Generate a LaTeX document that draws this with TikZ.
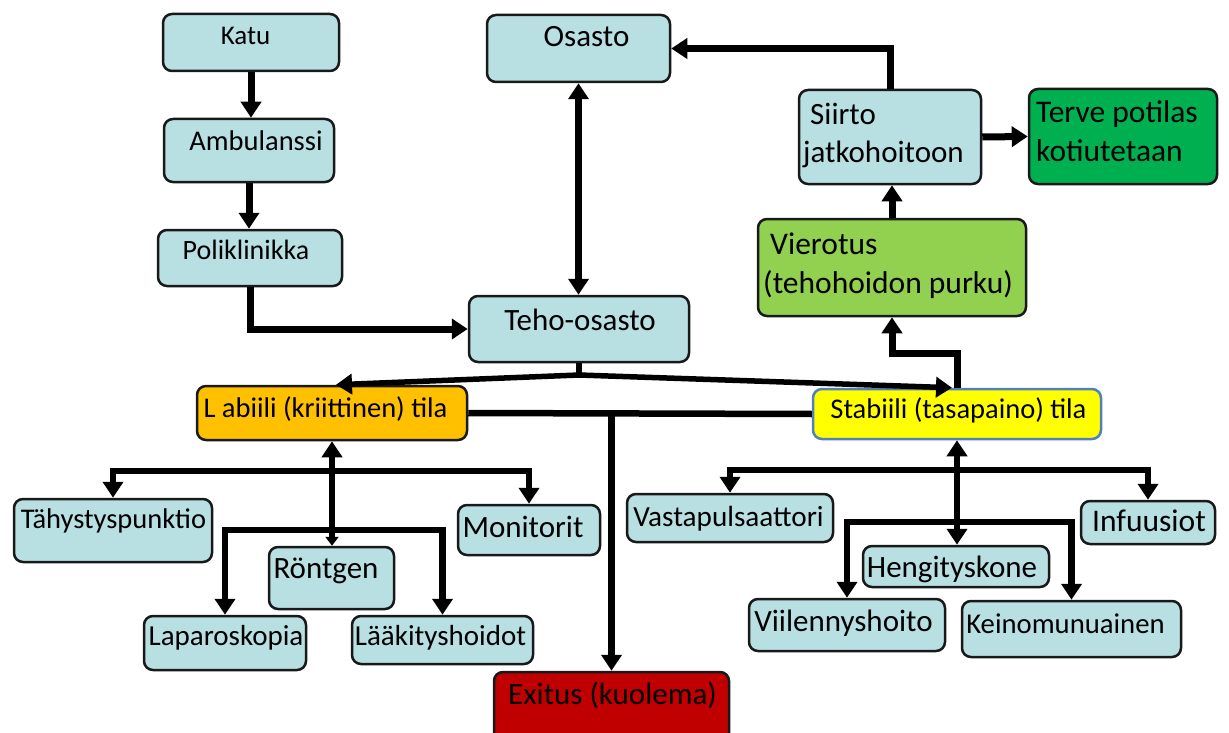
\documentclass[tikz,border=0pt]{standalone}
\usepackage{fontspec}
\setmainfont{Carlito}
\usetikzlibrary{arrows.meta}
\definecolor{boxblue}{HTML}{B8DFE2}
\definecolor{critorange}{HTML}{FFC000}
\definecolor{stabyellow}{HTML}{FFFF00}
\definecolor{stabborder}{HTML}{4F81BD}
\definecolor{weangreen}{HTML}{92D050}
\definecolor{homegreen}{HTML}{00B050}
\definecolor{deathred}{HTML}{C00000}
\begin{document}
\begin{tikzpicture}[x=1pt,y=-1pt,
  >={Triangle[length=16pt,width=20pt]},
  box/.style={draw=black!90, line width=2.5pt, rounded corners=9pt, inner sep=0pt, anchor=center, fill=boxblue},
  t/.style={font=\fontsize{#1}{#1}\selectfont, inner sep=0pt, anchor=base, text=black},
  tl/.style={t=#1, anchor=base west},
  conn/.style={line width=7pt, draw=black},
  tree/.style={line width=6.5pt, draw=black},
  thin/.style={line width=5.5pt, draw=black},
  smalltip/.style={-{Triangle[length=9pt,width=13pt]}}
]
\fill[white] (0,0) rectangle (1229,733);
\useasboundingbox (0,0) rectangle (1229,733);

% boxes
\node[box, minimum width=176pt, minimum height=57pt] (katu) at (251,42.5) {};
\node[box, minimum width=170pt, minimum height=63pt] (amb) at (249,150.5) {};
\node[box, minimum width=184pt, minimum height=56pt] (poli) at (250,258) {};
\node[box, minimum width=183pt, minimum height=67pt] (osasto) at (578.5,48.5) {};
\node[box, minimum width=220pt, minimum height=66pt] (teho) at (579,329) {};
\node[box, minimum width=182pt, minimum height=94pt] (siirto) at (890,137) {};
\node[box, fill=homegreen, minimum width=188pt, minimum height=95pt] (terve) at (1123,136.5) {};
\node[box, fill=weangreen, minimum width=268pt, minimum height=97pt] (vierotus) at (892,267.5) {};
\node[box, fill=critorange, minimum width=270pt, minimum height=54pt] (labiili) at (332,413) {};
\node[box, fill=stabyellow, draw=stabborder, minimum width=288pt, minimum height=50pt] (stabiili) at (957,414) {};
\node[box, fill=deathred, minimum width=235pt, minimum height=73pt] (exitus) at (611.5,708.5) {};
\node[box, minimum width=198pt, minimum height=63pt] (tahy) at (113,530.5) {};
\node[box, minimum width=125pt, minimum height=62pt] (rontgen) at (331.5,578) {};
\node[box, minimum width=142pt, minimum height=50pt] (monitorit) at (529,530) {};
\node[box, minimum width=162pt, minimum height=54pt] (lapar) at (225,643) {};
\node[box, minimum width=181pt, minimum height=48pt] (laak) at (442.5,640) {};
\node[box, minimum width=206pt, minimum height=48pt] (vasta) at (730,518) {};
\node[box, minimum width=134pt, minimum height=43pt] (infuusiot) at (1148,522.5) {};
\node[box, minimum width=186pt, minimum height=41pt] (hengitys) at (956,566.5) {};
\node[box, minimum width=196pt, minimum height=52pt] (viilennys) at (847,625) {};
\node[box, minimum width=219pt, minimum height=56pt] (keino) at (1071.5,629) {};

% texts
\node[t=27] (katu-t) at (245.5,45) {Katu};
\node[t=28.5] (amb-t) at (256,150) {Ambulanssi};
\node[t=28] (poli-t) at (246,259) {Poliklinikka};
\node[t=31] (osasto-t) at (586.5,47) {Osasto};
\node[t=31] (teho-t) at (580,330) {Teho-osasto};
\node[tl=31] (siirto-t1) at (810,125) {Siirto};
\node[tl=31] (siirto-t2) at (803,163) {jatkohoitoon};
\node[tl=31.5] (terve-t1) at (1036,122.5) {Terve potilas};
\node[tl=31.5] (terve-t2) at (1036,161) {kotiutetaan};
\node[tl=31.5] (vierotus-t1) at (770,254) {Vierotus};
\node[tl=31.5] (vierotus-t2) at (763,293) {(tehohoidon purku)};
\node[t=28.5] (labiili-t) at (325.5,417) {L abiili (kriittinen) tila};
\node[t=28.5] (stabiili-t) at (958.5,418) {Stabiili (tasapaino) tila};
\node[t=31] (exitus-t) at (612.5,704) {Exitus (kuolema)};
\node[t=28.5] (tahy-t) at (113.5,528) {Tähystyspunktio};
\node[t=31] (rontgen-t) at (326,578) {Röntgen};
\node[t=31] (monitorit-t) at (523,537) {Monitorit};
\node[t=29] (lapar-t) at (226,645) {Laparoskopia};
\node[t=29] (laak-t) at (440.5,645) {Lääkityshoidot};
\node[t=29.2] (vasta-t) at (728.5,526.5) {Vastapulsaattori};
\node[t=31.5] (infuusiot-t) at (1149,531.5) {Infuusiot};
\node[t=31] (hengitys-t) at (952,577) {Hengityskone};
\node[t=31] (viilennys-t) at (843.5,631.5) {Viilennyshoito};
\node[t=28.7] (keino-t) at (1065.5,633) {Keinomunuainen};

% junction coordinates
\coordinate (tj) at (579,375);
\coordinate (sv) at (957,353);
\coordinate (lj1) at (332,471);
\coordinate (lj2) at (332,530);
\coordinate (sj1) at (957,470);
\coordinate (sj2) at (957,522);

% upper chain
\draw[conn,->] (katu.south) -- (katu.south |- amb.north);
\draw[conn,->] (amb.south) -- (amb.south |- poli.north);
\draw[conn,->] (poli.south) |- (teho.west);
\draw[conn,<->] (osasto.south) -- (osasto.south |- teho.north);
\draw[conn,->] (siirto.north) |- (osasto.east);
\draw[conn,->] (siirto.east) -- (terve.west);
\draw[conn,->] (vierotus.north) -- (vierotus.north |- siirto.south);
\draw[conn,->] (stabiili.north) -- (sv) -| (vierotus.south);

% teho to states
\draw[thin] (teho.south) -- (tj);
\draw[thin,->] (tj) -- ([xshift=4pt]labiili.north);
\draw[thin,->] (tj) -- ([xshift=-5pt]stabiili.north);

% states to exitus
\draw[tree] (labiili.east) -- (stabiili.west);
\draw[tree,->] (labiili.east -| exitus.north) -- (exitus.north);

% labiili tree
\draw[tree,<-] (labiili.south) -- (lj2);
\draw[tree,smalltip] (lj2) -- (lj2 |- rontgen.north);
\draw[tree,->] (lj1) -| (tahy.north);
\draw[tree,->] (lj1) -| (monitorit.north);
\draw[tree,->] (lj2) -| (lapar.north);
\draw[tree,->] (lj2) -| (laak.north);

% stabiili tree
\draw[tree,<->] (stabiili.south) -- (stabiili.south |- hengitys.north);
\draw[tree,->] (sj1) -| (vasta.north);
\draw[tree,->] (sj1) -| (infuusiot.north);
\draw[tree,->] (sj2) -| (viilennys.north);
\draw[tree,->] (sj2) -| (keino.north);
\end{tikzpicture}
\end{document}
